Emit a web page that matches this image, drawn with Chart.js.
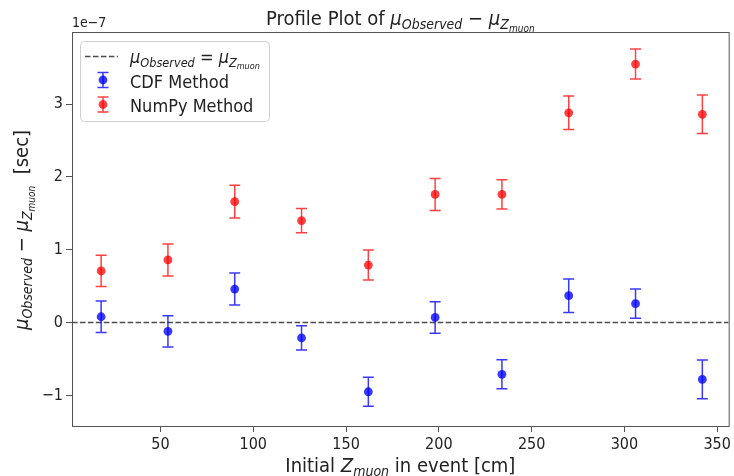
<!DOCTYPE html>
<html>
<head>
<meta charset="utf-8">
<script src="https://cdn.jsdelivr.net/npm/chart.js@4.4.0/dist/chart.umd.min.js"></script>
<style>
  html, body { margin: 0; padding: 0; background: #fff; }
</style>
</head>
<body>
<canvas id="chart-profile" width="734" height="476"></canvas>
<script>
// Profile plot: mean of (mu_observed - mu_Z) per Z bin, y in units of 1e-7 sec
const zBins   = [18, 54, 90, 126, 162, 198, 234, 270, 306, 342];
const cdfMean = [0.08, -0.12, 0.46, -0.21, -0.95, 0.07, -0.71, 0.37, 0.26, -0.78];
const cdfErr  = [0.215, 0.215, 0.22, 0.165, 0.20, 0.215, 0.20, 0.23, 0.20, 0.265];
const npMean  = [0.71, 0.86, 1.66, 1.40, 0.79, 1.76, 1.76, 2.88, 3.55, 2.86];
const npErr   = [0.215, 0.22, 0.225, 0.165, 0.205, 0.22, 0.20, 0.23, 0.205, 0.265];
const xLimits = [2.3, 356.2];
const yLimits = [-1.42, 3.99];
const yTickStep = 1;
const xTickStep = 50;

const FONT = "'DejaVu Sans Condensed', 'DejaVu Sans', sans-serif";
const COLORS = {
  cdf:   'rgba(0, 0, 255, 0.78)',
  numpy: 'rgba(255, 0, 0, 0.75)',
  zero:  'rgba(0, 0, 0, 0.7)',
  spine: '#555',
  text:  '#222',
};

// ── texte amb subíndexs (mathtext a mà) ─────────────────────────────────────
function font(p) {
  return `${p.i ? 'oblique ' : ''}${p.s}px ${FONT}`;
}
function muObs(s) {
  return [{ t: 'μ', s, i: true }, { t: 'Observed', s: s * 0.7, i: true, dy: s * 0.22 }];
}
function muZ(s) {
  return [
    { t: 'μ', s, i: true },
    { t: 'Z', s: s * 0.7, i: true, dy: s * 0.22 },
    { t: 'muon', s: s * 0.5, i: true, dy: s * 0.36 },
  ];
}
function drawRuns(ctx, parts, x, y, align) {
  let w = 0;
  parts.forEach(p => { ctx.font = font(p); p.w = ctx.measureText(p.t).width; w += p.w; });
  let cx = align === 'center' ? x - w / 2 : x;
  ctx.textAlign = 'left';
  ctx.textBaseline = 'alphabetic';
  parts.forEach(p => {
    ctx.font = font(p);
    ctx.fillText(p.t, cx, y + (p.dy || 0));
    cx += p.w;
  });
}

function errorCap(ctx, px, top, bot, half) {
  ctx.beginPath();
  ctx.moveTo(px, top); ctx.lineTo(px, bot);
  ctx.moveTo(px - half, top); ctx.lineTo(px + half, top);
  ctx.moveTo(px - half, bot); ctx.lineTo(px + half, bot);
  ctx.stroke();
}

// ── barres d'error, dibuixades sota els punts de cada dataset ───────────────
const errorBars = {
  id: 'errorBars',
  beforeDatasetDraw(chart, args) {
    const ds = chart.data.datasets[args.index];
    if (!ds.errors) return;
    const { ctx, scales: { x, y } } = chart;
    ctx.save();
    ctx.strokeStyle = ds.borderColor;
    ctx.lineWidth = 1.5;
    ds.data.forEach((p, k) => {
      const px = x.getPixelForValue(p.x);
      errorCap(ctx, px, y.getPixelForValue(p.y + ds.errors[k]), y.getPixelForValue(p.y - ds.errors[k]), 5.5);
    });
    ctx.restore();
  }
};

// ── marc, títols, llegenda ──────────────────────────────────────────────────
const decorations = {
  id: 'decorations',
  afterDraw(chart) {
    const { ctx, chartArea: a } = chart;
    ctx.save();
    ctx.strokeStyle = COLORS.spine;
    ctx.lineWidth = 1;
    ctx.strokeRect(a.left + 0.5, a.top + 0.5, a.right - a.left, a.bottom - a.top);

    ctx.fillStyle = COLORS.text;
    // títol
    drawRuns(ctx, [{ t: 'Profile Plot of ', s: 20 }, ...muObs(20), { t: ' − ', s: 20 }, ...muZ(20)],
      (a.left + a.right) / 2, 25, 'center');
    // eix x
    drawRuns(ctx, [{ t: 'Initial ', s: 20 }, { t: 'Z', s: 20, i: true }, { t: 'muon', s: 14, i: true, dy: 4.4 },
      { t: ' in event [cm]', s: 20 }], (a.left + a.right) / 2, 471.5, 'center');
    // eix y
    ctx.save();
    ctx.translate(28, 230);
    ctx.rotate(-Math.PI / 2);
    drawRuns(ctx, [...muObs(20), { t: ' − ', s: 20 }, ...muZ(20), { t: '  [sec]', s: 20 }], 0, 0, 'center');
    ctx.restore();
    // factor d'escala
    drawRuns(ctx, [{ t: '1e−7', s: 14 }], a.left, 26.5, 'left');

    // llegenda
    ctx.beginPath();
    ctx.roundRect(80.5, 41.5, 189, 80, 4);
    ctx.fillStyle = 'rgba(255,255,255,0.8)';
    ctx.fill();
    ctx.strokeStyle = '#d0d0d0';
    ctx.stroke();

    ctx.strokeStyle = COLORS.zero;
    ctx.lineWidth = 1.5;
    ctx.setLineDash([5.55, 2.4]);
    ctx.beginPath(); ctx.moveTo(85, 56.5); ctx.lineTo(118, 56.5); ctx.stroke();
    ctx.setLineDash([]);

    [[COLORS.cdf, 80], [COLORS.numpy, 104.5]].forEach(([c, cy]) => {
      ctx.strokeStyle = c;
      errorCap(ctx, 103, cy - 7.5, cy + 7.5, 5.5);
      ctx.fillStyle = c;
      ctx.beginPath(); ctx.arc(103, cy, 4.4, 0, Math.PI * 2); ctx.fill();
    });

    ctx.fillStyle = COLORS.text;
    drawRuns(ctx, [...muObs(18), { t: ' = ', s: 18 }, ...muZ(18)], 130, 63, 'left');
    drawRuns(ctx, [{ t: 'CDF Method', s: 18 }], 130, 87.5, 'left');
    drawRuns(ctx, [{ t: 'NumPy Method', s: 18 }], 130, 111.5, 'left');
    ctx.restore();
  }
};

const toPoints = (xs, ys) => xs.map((x, i) => ({ x, y: ys[i] }));
const minus = v => String(v).replace('-', '−');

new Chart(document.getElementById('chart-profile'), {
  type: 'scatter',
  data: {
    datasets: [
      {
        label: 'CDF Method',
        data: toPoints(zBins, cdfMean),
        errors: cdfErr,
        backgroundColor: COLORS.cdf,
        borderColor: COLORS.cdf,
        borderWidth: 0,
        pointRadius: 4.4,
        order: 2,
      },
      {
        label: 'NumPy Method',
        data: toPoints(zBins, npMean),
        errors: npErr,
        backgroundColor: COLORS.numpy,
        borderColor: COLORS.numpy,
        borderWidth: 0,
        pointRadius: 4.4,
        order: 1,
      },
      {
        type: 'line',
        label: 'zero',
        data: toPoints(xLimits, [0, 0]),
        borderColor: COLORS.zero,
        borderWidth: 1.5,
        borderDash: [5.55, 2.4],
        pointRadius: 0,
        order: 3,
      },
    ]
  },
  options: {
    responsive: false,
    animation: false,
    devicePixelRatio: 1,
    layout: { padding: { top: 32, right: 5, left: 0, bottom: 0 } },
    plugins: {
      legend: { display: false },
      title: { display: false },
      tooltip: { enabled: false },
    },
    scales: {
      x: {
        type: 'linear',
        min: xLimits[0],
        max: xLimits[1],
        afterFit: s => { s.height = 50; },
        ticks: {
          stepSize: xTickStep, includeBounds: false, maxRotation: 0,
          color: COLORS.text, padding: 3, font: { family: FONT, size: 16 },
          callback: minus,
        },
        grid: { drawOnChartArea: false, tickLength: 6, tickColor: COLORS.spine },
        border: { color: COLORS.spine },
      },
      y: {
        type: 'linear',
        min: yLimits[0],
        max: yLimits[1],
        afterFit: s => { s.width = 72; },
        ticks: {
          stepSize: yTickStep, includeBounds: false,
          color: COLORS.text, padding: 3, font: { family: FONT, size: 16 },
          callback: minus,
        },
        grid: { drawOnChartArea: false, tickLength: 6, tickColor: COLORS.spine },
        border: { color: COLORS.spine },
      },
    }
  },
  plugins: [errorBars, decorations],
});
</script>
</body>
</html>
